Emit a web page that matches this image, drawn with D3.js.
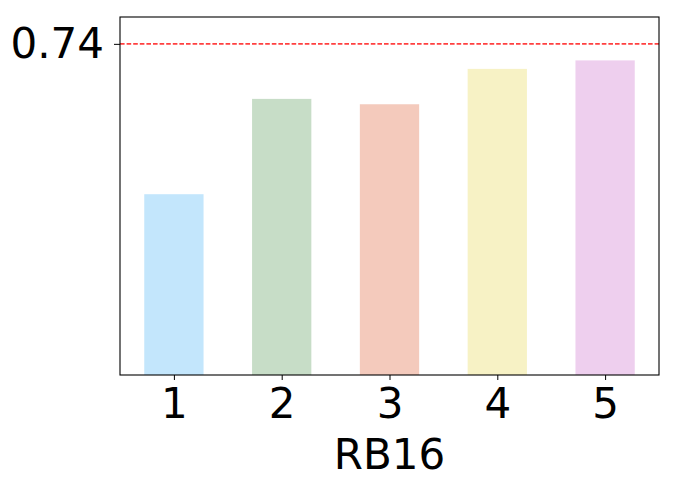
<!DOCTYPE html>
<html>
<head>
<meta charset="utf-8">
<script src="https://cdn.jsdelivr.net/npm/d3@7"></script>
<style>
  body { margin: 0; background: #fff; }
  svg { display: block; font-family: "DejaVu Sans", sans-serif; }
</style>
</head>
<body>
<svg id="chart" width="676" height="489"></svg>
<script>
const categories = ["1", "2", "3", "4", "5"];
const values = [0.404, 0.617, 0.605, 0.684, 0.703];
const colors = ["#87cefa", "#8fbc8f", "#e9967a", "#f0e68c", "#dda0dd"];
const refValue = 0.74;
const yTicks = [0.74];
const xLabel = "RB16";

const svg = d3.select("#chart");
const m = { left: 120, right: 676 - 659, top: 17, bottom: 489 - 375 };
const W = 676 - m.left - m.right, H = 489 - m.top - m.bottom;
const g = svg.append("g").attr("transform", `translate(${m.left},${m.top})`);

const x = d3.scaleLinear().domain([0.5, 5.5]).range([0, W]);
const y = d3.scaleLinear().domain([0, 0.8]).range([H, 0]);
const bw = 0.55;

g.selectAll("rect.bar").data(values).enter().append("rect")
  .attr("class", "bar")
  .attr("x", (d, i) => x(i + 1 - bw / 2))
  .attr("width", (d, i) => x(i + 1 + bw / 2) - x(i + 1 - bw / 2))
  .attr("y", d => y(d))
  .attr("height", d => H - y(d))
  .attr("fill", (d, i) => colors[i])
  .attr("fill-opacity", 0.5);

g.append("line")
  .attr("x1", 0).attr("x2", W)
  .attr("y1", y(refValue)).attr("y2", y(refValue))
  .attr("stroke", "#ff4040")
  .attr("stroke-width", 1.6)
  .attr("stroke-dasharray", "4.6,2");

// frame
g.append("rect").attr("x", 0).attr("y", 0).attr("width", W).attr("height", H)
  .attr("fill", "none").attr("stroke", "#000").attr("stroke-width", 1.1);

const xAxis = d3.axisBottom(x).tickValues([1, 2, 3, 4, 5])
  .tickFormat((d, i) => categories[i]).tickSizeOuter(0).tickSize(5).tickPadding(8);
const xa = g.append("g").attr("transform", `translate(0,${H})`).call(xAxis);
xa.select(".domain").remove();
xa.selectAll("text").attr("font-size", 42).attr("fill", "#000").attr("font-family", "DejaVu Sans");

const yAxis = d3.axisLeft(y).tickValues(yTicks).tickFormat(d3.format(".2f"))
  .tickSizeOuter(0).tickSize(6).tickPadding(10);
const ya = g.append("g").call(yAxis);
ya.select(".domain").remove();
ya.selectAll("text").attr("font-size", 42).attr("fill", "#000").attr("font-family", "DejaVu Sans");

svg.append("text")
  .attr("x", m.left + W / 2).attr("y", 469)
  .attr("text-anchor", "middle")
  .attr("font-size", 42)
  .text(xLabel);
</script>
</body>
</html>
